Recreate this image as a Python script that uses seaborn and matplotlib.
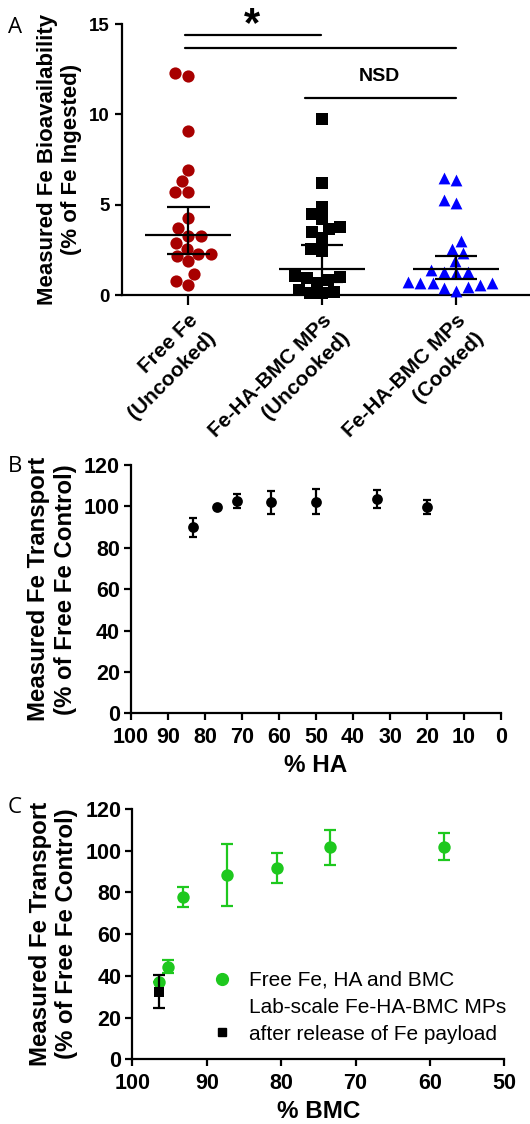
import numpy as np
import pandas as pd
import matplotlib.pyplot as plt
import seaborn as sns
from matplotlib.lines import Line2D

# panel A - measured Fe bioavailability, one value per animal
groups = ['Free Fe\n(Uncooked)', 'Fe-HA-BMC MPs\n(Uncooked)', 'Fe-HA-BMC MPs\n(Cooked)']
free_fe = [12.28, 12.15, 9.10, 6.92, 6.31, 5.71, 5.71, 4.29, 3.69, 3.28,
           3.28, 2.89, 2.57, 2.29, 2.28, 2.18, 1.88, 1.16, 0.76, 0.56]
mps_uncooked = [9.76, 6.21, 4.88, 4.48, 4.20, 3.76, 3.67, 3.48, 3.17, 2.55,
                2.46, 1.08, 1.00, 0.92, 0.84, 0.65, 0.26, 0.18, 0.09, 0.09]
mps_cooked = [6.48, 6.39, 5.27, 5.08, 2.98, 2.55, 2.33, 1.86, 1.36, 1.30,
              1.25, 1.21, 0.74, 0.65, 0.65, 0.65, 0.56, 0.46, 0.37, 0.24]
# centre line and interval drawn over each group
a_center = [3.31, 1.46, 1.42]
a_low = [2.26, 0.72, 0.91]
a_high = [4.88, 2.76, 2.16]

# panel B - transport vs % HA
ha_pct = [83.3, 76.8, 71.4, 62.2, 50.0, 33.4, 20.1]
b_transport = [89.9, 99.8, 102.7, 101.9, 102.2, 103.5, 99.7]
b_err = [4.5, 0.0, 3.5, 5.4, 6.0, 4.3, 3.2]

# panel C - transport vs % BMC
bmc_pct = [96.4, 95.2, 93.2, 87.3, 80.6, 73.5, 58.1]
c_transport = [37.2, 44.4, 77.6, 88.2, 91.9, 101.6, 101.9]
c_err = [0.0, 3.2, 4.8, 14.8, 7.2, 8.5, 6.5]
mp_bmc = [96.4]
mp_transport = [32.4]
mp_err = [8.0]

red = '#a80000'
blue = '#0000ff'
green = '#1ec81e'

sns.set_style('ticks')
plt.rcParams['font.family'] = ['Liberation Sans', 'DejaVu Sans']
plt.rcParams['font.weight'] = 'bold'
plt.rcParams['axes.labelweight'] = 'bold'
plt.rcParams['text.color'] = 'black'
plt.rcParams['axes.labelcolor'] = 'black'
plt.rcParams['axes.edgecolor'] = 'black'
plt.rcParams['axes.linewidth'] = 1.6
plt.rcParams['xtick.major.width'] = 1.6
plt.rcParams['ytick.major.width'] = 1.6
plt.rcParams['xtick.major.size'] = 5
plt.rcParams['ytick.major.size'] = 5
plt.rcParams['xtick.labelsize'] = 15.5
plt.rcParams['ytick.labelsize'] = 15.5
plt.rcParams['xtick.color'] = 'black'
plt.rcParams['ytick.color'] = 'black'

fig = plt.figure(figsize=(5.3, 11.24), dpi=100)

# ---------------- panel A ----------------
axA = fig.add_axes([0.2302, 0.7375, 0.7698, 0.2411])
dfA = pd.DataFrame({
    'group': [groups[0]] * len(free_fe) + [groups[1]] * len(mps_uncooked) + [groups[2]] * len(mps_cooked),
    'value': free_fe + mps_uncooked + mps_cooked,
})
styles = [(red, 'o', 8.8), ('black', 's', 8.0), (blue, '^', 8.5)]
for g, (c, m, s) in zip(groups, styles):
    sns.swarmplot(data=dfA[dfA['group'] == g], x='group', y='value', order=groups,
                  color=c, marker=m, size=s, linewidth=0, ax=axA, clip_on=False,
                  warn_thresh=1)

pos = np.arange(len(groups))
axA.hlines(a_center, pos - 0.32, pos + 0.32, color='black', lw=1.6, zorder=4)
axA.vlines(pos, a_low, a_high, color='black', lw=1.6, zorder=4)
axA.hlines(a_low, pos - 0.16, pos + 0.16, color='black', lw=1.6, zorder=4)
axA.hlines(a_high, pos - 0.16, pos + 0.16, color='black', lw=1.6, zorder=4)

axA.set_xlim(-0.493, 2.552)
axA.set_ylim(0, 15)
axA.set_yticks([0, 5, 10, 15])
axA.set_xticks(pos)
axA.set_xticklabels(groups, rotation=45, ha='right', va='top', rotation_mode='anchor',
                    multialignment='right', linespacing=1.45, fontsize=15)
axA.tick_params(axis='x', length=7, pad=4)
axA.tick_params(axis='y', pad=4, labelsize=13.5)
axA.set_xlabel('')
axA.set_ylabel('Measured Fe Bioavailability\n(% of Fe Ingested)', fontsize=16, labelpad=5)
sns.despine(ax=axA)

# significance brackets
axA.plot([-0.02, 0.99], [14.4, 14.4], color='black', lw=1.6, clip_on=False)
axA.plot([-0.02, 2.0], [13.65, 13.65], color='black', lw=1.6, clip_on=False)
axA.plot([0.87, 2.0], [10.9, 10.9], color='black', lw=1.6, clip_on=False)
axA.text(0.475, 14.35, '*', fontsize=30, ha='center', va='baseline', clip_on=False)
axA.text(1.425, 12.1, 'NSD', fontsize=14, ha='center', va='center')

# ---------------- panel B ----------------
axB = fig.add_axes([0.2472, 0.3654, 0.6981, 0.2209])
axB.errorbar(ha_pct, b_transport, yerr=b_err, fmt='none', ecolor='black',
             elinewidth=1.6, capsize=3, capthick=1.6, zorder=2)
sns.scatterplot(x=ha_pct, y=b_transport, color='black', s=60, linewidth=0,
                ax=axB, zorder=3)
axB.set_xlim(100, 0)
axB.set_ylim(0, 120)
axB.set_xticks(range(0, 101, 10))
axB.set_yticks(range(0, 121, 20))
axB.tick_params(axis='x', pad=5)
axB.tick_params(axis='y', pad=3)
axB.set_xlabel('% HA', fontsize=17.5, labelpad=4)
axB.set_ylabel('Measured Fe Transport\n(% of Free Fe Control)', fontsize=17.3, labelpad=5)
sns.despine(ax=axB)

# ---------------- panel C ----------------
axC = fig.add_axes([0.2497, 0.0576, 0.7019, 0.2227])
axC.errorbar(bmc_pct, c_transport, yerr=c_err, fmt='none', ecolor=green,
             elinewidth=1.6, capsize=4.4, capthick=1.6, zorder=2)
sns.scatterplot(x=bmc_pct, y=c_transport, color=green, s=80, linewidth=0,
                ax=axC, zorder=3)
axC.errorbar(mp_bmc, mp_transport, yerr=mp_err, fmt='none', ecolor='black',
             elinewidth=1.6, capsize=4.4, capthick=1.6, zorder=4)
sns.scatterplot(x=mp_bmc, y=mp_transport, color='black', marker='s', s=60,
                linewidth=0, ax=axC, zorder=5)
axC.set_xlim(100, 50)
axC.set_ylim(0, 120)
axC.set_xticks(range(50, 101, 10))
axC.set_yticks(range(0, 121, 20))
axC.tick_params(axis='x', pad=5)
axC.tick_params(axis='y', pad=3)
axC.set_xlabel('% BMC', fontsize=17.5, labelpad=4)
axC.set_ylabel('Measured Fe Transport\n(% of Free Fe Control)', fontsize=17.3, labelpad=5)
sns.despine(ax=axC)

handles = [Line2D([], [], marker='o', color=green, linestyle='none', markersize=8.5),
           Line2D([], [], linestyle='none'),
           Line2D([], [], marker='s', color='black', linestyle='none', markersize=6)]
labels = ['Free Fe, HA and BMC', 'Lab-scale Fe-HA-BMC MPs', 'after release of Fe payload']
axC.legend(handles, labels, loc='upper left', bbox_to_anchor=(0.2126, 0.353),
           frameon=False, prop={'family': 'Liberation Sans', 'weight': 'normal', 'size': 15},
           handlelength=1.0, handletextpad=0.8, labelspacing=0.38, borderpad=0,
           borderaxespad=0)

# panel letters
for letter, ytop in [('A', 17), ('B', 456), ('C', 797)]:
    fig.text(8 / 530, 1 - ytop / 1124, letter, fontsize=16, fontweight='normal',
             family='Open Sans', ha='left', va='top')

fig.savefig('out.png', dpi=100)
